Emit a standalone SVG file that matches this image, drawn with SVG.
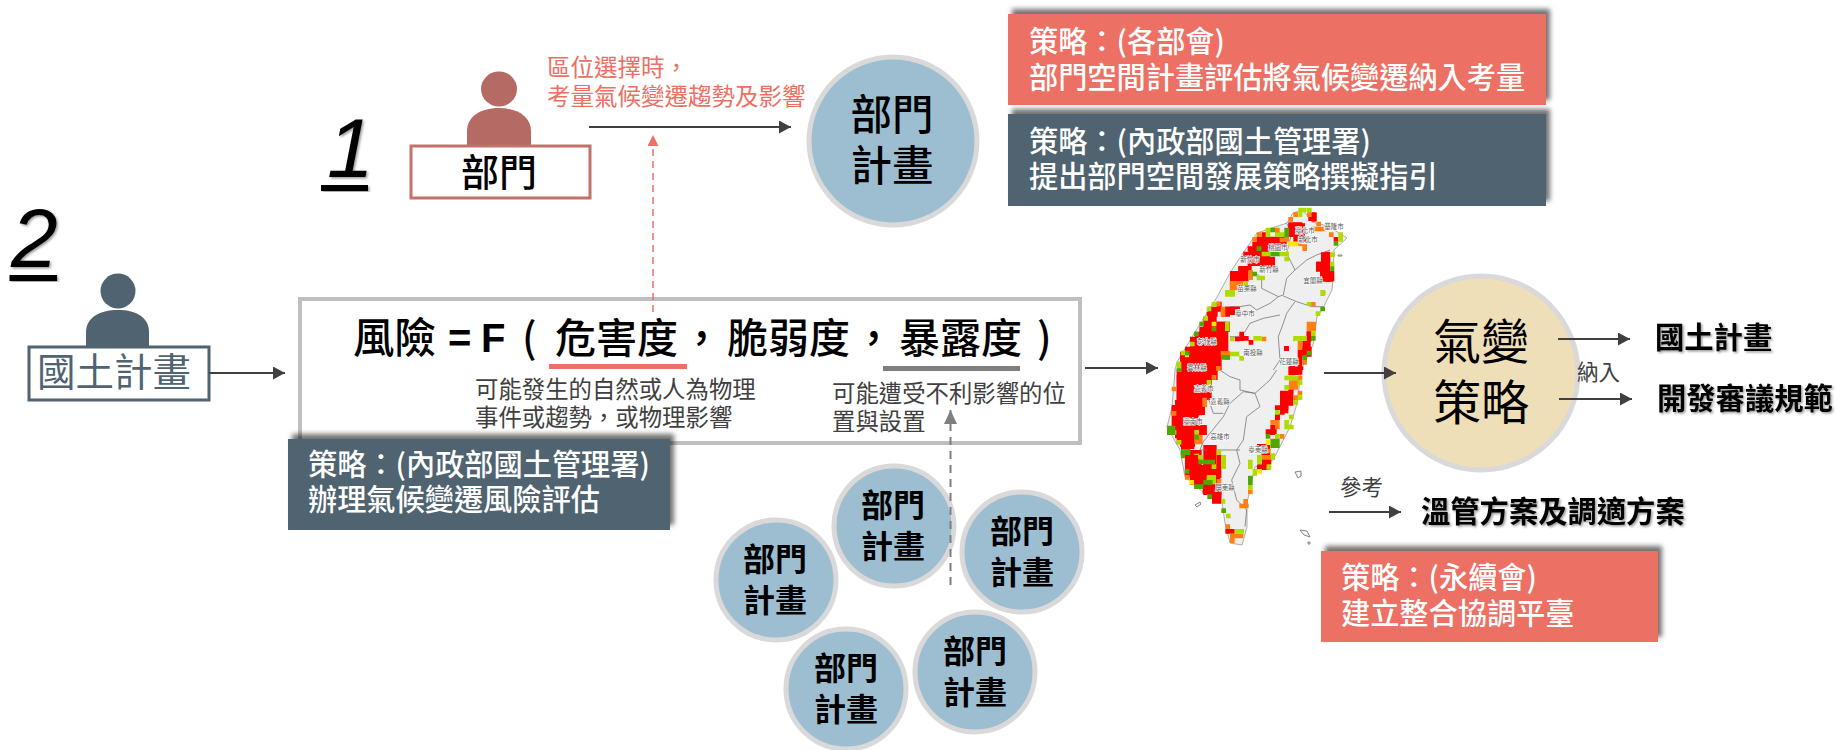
<svg xmlns="http://www.w3.org/2000/svg" width="1839" height="750" viewBox="0 0 1839 750">
<style>
text{font-family:"Noto Sans CJK TC","Noto Sans CJK JP","Liberation Sans",sans-serif;fill:#000}
.m{text-anchor:middle}
.w{fill:#fff;font-size:29.2px;font-weight:500}
.b{font-size:32px;font-weight:700;text-anchor:middle}
.f{font-size:41px;font-weight:500}
.s{font-size:23.4px;fill:#404040}
.r{font-size:23.5px;fill:#ec7063}
.o{font-size:29.3px;font-weight:700;filter:url(#ts)}
.c{font-size:21.5px;fill:#404040}
.l{font-size:6.500px;fill:#555;text-anchor:middle;paint-order:stroke;stroke:#fff;stroke-width:1.2px}
.n{font-family:"Liberation Sans",sans-serif;font-style:italic;font-size:84px;filter:url(#ts)}
.bub{fill:#9dbdd0;stroke:#d9d9d9;stroke-width:5}
.line{stroke:#404040;stroke-width:2;fill:none;marker-end:url(#a)}
.R{fill:#f00}.O{fill:#ff7f10}.L{fill:#aedc00}.G{fill:#4fa800}.Y{fill:#ffe600}
.bd{fill:none;stroke:#777;stroke-width:2.4}
</style>
<defs>
<filter id="bs" x="-10%" y="-25%" width="120%" height="150%"><feDropShadow dx="4" dy="-5" stdDeviation="2.5" flood-color="#000" flood-opacity=".55"/></filter>
<filter id="ts" x="-10%" y="-10%" width="125%" height="125%"><feDropShadow dx="1.5" dy="1.5" stdDeviation="1" flood-color="#000" flood-opacity=".4"/></filter>
<marker id="a" markerUnits="userSpaceOnUse" markerWidth="14" markerHeight="14" refX="12" refY="6.5" orient="auto"><path d="M0 0L12 6.5L0 13z" fill="#404040"/></marker>
<marker id="ar" markerUnits="userSpaceOnUse" markerWidth="14" markerHeight="14" refX="11" refY="5.5" orient="auto"><path d="M0 0L11 5.5L0 11z" fill="#ec7063"/></marker>
<marker id="ag" markerUnits="userSpaceOnUse" markerWidth="16" markerHeight="16" refX="14" refY="6.5" orient="auto"><path d="M0 0L14 6.5L0 13z" fill="#7f7f7f"/></marker>
</defs>
<rect width="1839" height="750" fill="#fff"/>

<g id="map">
<path d="M1303 210L1312 222L1328 226L1347 238L1334 250L1333 280L1332 290L1322 310L1317 317L1313 345L1303 366L1300 377L1298 400L1290 427L1273 460L1255 467L1247 503L1247 527L1242 545L1230 543L1225 523L1222 502L1203 492L1185 477L1180 450L1167 427L1172 407L1175 370L1177 362L1195 332L1217 297L1230 273L1243 253L1257 233L1287 223L1293 213z" fill="#efefef" stroke="#999" stroke-width=".8"/>
<path d="M1295 472l6-1l0 5l-3 2zM1300 530l7 1l3 6l-6-2zM1195 505l5-3l1 2l-4 3zM1338 255h4v1h-4zM1308 542h2v2h-2z" fill="#f4f4f4" stroke="#888" stroke-width="1"/>
<g transform="translate(1140,190) scale(.3333)">
<path class="R" d="M445 100h50v40h-50zM505 68h25v25h-25zM350 140h90v30h-90zM325 170h60v30h-60zM310 185h80v15h-80zM360 200h45v30h-45zM270 245h55v30h-55zM295 230h30v15h-30zM230 335h15v30h-15zM255 350h45v15h-45zM200 365h30v30h-30zM245 365h25v15h-25zM190 395h80v30h-80zM165 425h100v30h-100zM150 455h115v30h-115zM120 485h125v55h-125zM528 215h40v30h-40zM555 185h15v60h-15zM540 245h40v30h-40zM500 425h14v30h-14zM475 470h40v30h-40zM445 530h45v10h-45zM432 468h14v14h-14z"/>
<path class="bd" d="M440 190L465 240L440 265L430 315L415 320L365 295L365 265L350 250M465 240L500 210L530 195L570 180M430 318L470 335L515 350L550 350M415 320L390 340L350 360L330 345L300 350L270 350M465 335L440 370L430 400L415 440L420 510L400 540M420 375L370 385L330 400L315 425L295 440L270 440M440 100L455 130L440 190"/>
</g>
<g transform="translate(1140,370) scale(.3333)">
<path class="R" d="M110 0h105v90h-105zM95 105h100v30h-100zM105 90h85v15h-85zM105 135h70v70h-70zM175 165h25v30h-25zM120 200h45v30h-45zM190 225h40v60h-40zM135 240h50v80h-50zM185 285h55v35h-55zM150 320h90v25h-90zM190 345h55v30h-55zM230 370h14v30h-14zM420 65h25v65h-25zM445 48h15v25h-15zM445 0h30v15h-30zM405 130h15v20h-15zM380 180h30v15h-30zM395 165h15v15h-15zM360 285h30v15h-30zM365 225h25v50h-25z"/>
<path class="bd" d="M410 0L390 30L345 70L360 110L320 140L310 210L290 240L300 280L275 330L290 390L320 420L315 470M345 70L310 65L270 100L250 140L190 215L180 240L240 240L270 240L300 240M205 85L220 130L250 130M115 50L160 40L205 50M115 90L160 75L190 70M240 0L270 20L300 30L300 60L345 70"/>
</g>
<g transform="translate(1225,205) scale(.3333)">
<path class="R" d="M260 22h14v28h-14zM190 52h42v43h-42zM205 95h40v15h-40zM150 82h14v14h-14zM110 82h14v14h-14zM95 96h55v28h-55zM82 110h14v14h-14zM95 124h40v30h-40zM68 124h28v14h-28zM68 155h40v28h-40zM40 183h40v15h-40zM15 198h55v30h-55zM288 142h28v55h-28zM274 170h14v28h-14zM302 155h14v75h-14zM316 198h12v30h-12zM326 96h14v14h-14z"/>
<path class="O" d="M205 22h14v14h-14zM190 36h14v14h-14zM246 22h14v14h-14zM274 50h14v14h-14zM218 95h14v28h-14zM232 118h14v20h-14zM262 65h40v14h-40zM312 82h14v14h-14zM150 68h14v14h-14zM95 82h14v14h-14zM82 96h14v14h-14zM164 98h14v14h-14zM178 96h14v14h-14zM70 195h14v30h-14zM14 228h40v14h-40zM14 242h30v14h-30z"/>
<path class="L" d="M220 8h25v14h-25zM220 22h12v14h-12zM246 8h14v14h-14zM302 52h14v10h-14zM340 82h14v28h-14zM122 68h14v28h-14zM150 82h28v14h-28zM110 140h25v14h-25zM164 140h28v14h-28zM178 155h14v14h-14zM55 228h14v30h-14zM95 212h25v14h-25zM316 170h12v14h-12zM316 142h14v14h-14zM288 256h14v14h-14z"/>
<path class="G" d="M136 68h14v14h-14zM178 68h14v28h-14zM95 124h14v14h-14zM136 140h28v14h-28zM82 200h14v14h-14zM316 184h12v14h-12zM326 110h14v12h-14z"/>
<path class="Y" d="M190 110h30v14h-30z"/>
</g>
<g transform="translate(1170,290) scale(.3333)">
<path class="R" d="M115 50h28v30h-28zM100 80h30v30h-30zM140 95h28v50h-28zM88 110h52v30h-52zM60 140h100v30h-100zM45 170h110v28h-110zM33 198h110v72h-110zM165 50h40v25h-40zM208 125h14v28h-14zM222 138h14v14h-14zM195 140h14v14h-14zM236 150h14v14h-14zM343 168h14v14h-14zM358 228h17v28h-17z"/>
<path class="O" d="M152 50h14v30h-14zM138 35h14v14h-14zM275 140h14v14h-14zM138 228h14v14h-14zM152 183h28v14h-28zM165 195h14v14h-14z"/>
<path class="L" d="M165 0h30v20h-30zM195 62h14v14h-14zM165 95h14v28h-14zM250 138h25v14h-25zM180 185h28v14h-28zM208 198h14v14h-14zM125 36h14v14h-14zM110 50h14v14h-14zM100 78h14v14h-14zM60 155h14v14h-14zM20 215h14v30h-14zM32 182h14v14h-14zM180 140h14v14h-14zM370 140h5v14h-5z"/>
<path class="G" d="M155 195h25v14h-25zM125 110h14v14h-14zM72 125h14v14h-14zM45 182h14v14h-14zM88 95h14v14h-14zM20 235h14v10h-14z"/>
<path class="Y" d="M125 95h14v14h-14zM45 196h12v6h-12z"/>
</g>
<g transform="translate(1255,290) scale(.3333)">
<path class="R" d="M155 124h14v28h-14zM142 152h25v30h-25zM128 180h14v50h-14zM102 230h40v24h-40zM102 288h14v14h-14zM75 302h40v45h-40zM60 346h40v14h-40zM75 360h14v14h-14zM60 374h14v14h-14zM46 404h14v28h-14zM32 418h14v14h-14zM6 462h30v14h-30zM20 476h26v50h-26zM6 525h28v15h-28zM88 168h14v14h-14z"/>
<path class="O" d="M155 95h28v28h-28zM128 152h14v28h-14zM142 210h14v14h-14zM102 271h28v28h-28zM128 257h14v14h-14zM115 316h14v14h-14zM128 302h14v14h-14zM60 390h14v14h-14zM46 390h14v14h-14zM60 404h14v14h-14zM74 432h14v14h-14zM168 36h14v12h-14zM34 476h12v14h-12z"/>
<path class="L" d="M196 0h14v18h-14zM155 36h14v12h-14zM182 64h14v14h-14zM168 124h14v14h-14zM115 138h40v14h-40zM88 257h42v14h-42zM128 271h14v14h-14zM88 285h14v14h-14zM128 316h14v14h-14zM115 330h14v14h-14zM60 360h14v14h-14zM102 374h14v14h-14zM88 390h14v28h-14zM102 404h14v14h-14zM60 432h14v14h-14zM46 490h14v20h-14zM6 495h14v28h-14zM34 525h14v14h-14z"/>
<path class="G" d="M196 50h14v14h-14zM168 138h14v14h-14zM155 182h14v14h-14zM142 196h14v14h-14zM32 432h14v14h-14zM46 446h28v28h-28z"/>
<path class="Y" d="M32 450h14v14h-14z"/>
</g>
<g transform="translate(1165,375) scale(.3333)">
<path class="R" d="M35 0h105v35h-105zM35 35h90v35h-90zM35 68h75v28h-75zM20 96h90v25h-90zM20 120h80v60h-80zM100 152h25v28h-25zM35 180h55v28h-55zM48 208h40v14h-40zM125 210h28v40h-28z"/>
<path class="O" d="M140 0h14v14h-14zM20 35h14v14h-14zM112 68h14v28h-14zM20 108h14v14h-14zM88 180h25v28h-25z"/>
<path class="L" d="M125 15h14v20h-14zM20 165h14v14h-14zM88 165h14v14h-14zM35 195h14v14h-14zM88 236h14v14h-14zM155 225h14v40h-14z"/>
<path class="G" d="M6 152h25v28h-25zM88 180h14v14h-14zM48 222h28v28h-28z"/>
</g>
<g transform="translate(1180,455) scale(.3333)">
<path class="R" d="M15 0h40v60h-40zM70 28h40v14h-40zM110 0h14v70h-14zM45 60h45v28h-45zM68 90h55v28h-55zM96 118h28v28h-28zM136 222h28v14h-28zM232 28h28v14h-28zM246 14h28v14h-28z"/>
<path class="O" d="M15 60h14v14h-14zM110 72h14v14h-14zM204 104h14v14h-14zM178 146h28v14h-28zM190 132h14v14h-14zM136 208h14v14h-14zM150 236h40v14h-40zM150 250h14v14h-14zM246 0h28v14h-28z"/>
<path class="L" d="M55 0h14v14h-14zM95 28h14v14h-14zM124 0h14v42h-14zM80 60h28v28h-28zM124 132h12v14h-12zM138 176h14v14h-14zM164 222h28v14h-28zM204 14h14v28h-14zM218 42h14v20h-14zM204 90h14v14h-14zM232 0h14v28h-14zM260 28h14v14h-14zM274 0h10v14h-10z"/>
<path class="G" d="M55 14h50v14h-50zM14 42h14v14h-14zM70 75h28v14h-28zM42 88h28v14h-28zM82 118h14v14h-14zM124 160h14v14h-14zM204 62h14v28h-14z"/>
<path class="Y" d="M28 75h14v14h-14zM232 42h14v14h-14z"/>
</g>
<g id="map-labels">
<text class="l" x="1334" y="229">基隆市</text><text class="l" x="1305" y="233">臺北市</text><text class="l" x="1308" y="242">新北市</text><text class="l" x="1278" y="250">桃園市</text><text class="l" x="1250" y="262">新竹市</text><text class="l" x="1269" y="272">新竹縣</text><text class="l" x="1313" y="283">宜蘭縣</text><text class="l" x="1247" y="291">苗栗縣</text><text class="l" x="1245" y="316">臺中市</text><text class="l" x="1207" y="344">彰化縣</text><text class="l" x="1253" y="355">南投縣</text><text class="l" x="1289" y="364">花蓮縣</text><text class="l" x="1197" y="370">雲林縣</text><text class="l" x="1204" y="391">嘉義市</text><text class="l" x="1220" y="404">嘉義縣</text><text class="l" x="1193" y="424">臺南市</text><text class="l" x="1220" y="439">高雄市</text><text class="l" x="1258" y="452">臺東縣</text><text class="l" x="1225" y="490">屏東縣</text>
</g>
</g>

<g id="formula-box">
<rect x="300" y="299" width="780" height="144" fill="#fff" stroke="#bfbfbf" stroke-width="4"/>
<text x="353" y="353" style="font-size:41.5px;font-weight:500">風險</text>
<text x="448" y="352" style="font-family:'Liberation Sans',sans-serif;font-size:40px;font-weight:700">=</text>
<text x="481" y="352" style="font-family:'Liberation Sans',sans-serif;font-size:40px;font-weight:700">F</text>
<text class="f" x="522" y="353">(</text>
<text class="f" x="555" y="353">危害度</text>
<text class="f" x="681" y="353">，</text>
<text class="f" x="727" y="353">脆弱度</text>
<text class="f" x="853" y="353">，</text>
<text class="f" x="899" y="353">暴露度</text>
<text class="f" x="1037" y="353">)</text>
<rect x="549" y="364" width="138" height="5" fill="#ec7063"/>
<rect x="883" y="366" width="137" height="5" fill="#7f7f7f"/>
<text class="s" x="475" y="398">可能發生的自然或人為物理</text>
<text class="s" x="475" y="426">事件或趨勢，或物理影響</text>
<text class="s" x="832" y="402">可能遭受不利影響的位</text>
<text class="s" x="832" y="430">置與設置</text>
</g>

<g id="num-1"><text class="n" x="327" y="177">1</text><rect x="321" y="185" width="47" height="6" filter="url(#ts)"/></g>
<g id="num-2"><text class="n" x="11" y="267">2</text><rect x="9.500" y="275" width="47.500" height="6" filter="url(#ts)"/></g>

<g id="person-dept">
<ellipse cx="499" cy="89" rx="18" ry="17.500" fill="#b56a63"/>
<path d="M467 146V131C467 117 480 108 499 108S531 117 531 131V146z" fill="#b56a63"/>
<rect x="411" y="146" width="179" height="52" fill="#fff" stroke="#c0726b" stroke-width="3"/>
<text class="m" x="499" y="186" style="font-size:38px;font-weight:500">部門</text>
</g>
<g id="person-national">
<ellipse cx="118" cy="291" rx="17.500" ry="17.500" fill="#4f6470"/>
<path d="M86 347V332C86 318 99 310 118 310S149 318 149 332V347z" fill="#4f6470"/>
<rect x="29" y="347" width="180" height="53" fill="#fff" stroke="#4f6470" stroke-width="3"/>
<text class="m" x="114" y="386" style="font-size:38.5px;fill:#4f6470">國土計畫</text>
</g>
<g id="note-site"><text class="r" x="547" y="76">區位選擇時，</text><text class="r" x="547" y="105">考量氣候變遷趨勢及影響</text></g>

<g id="plan-main"><circle cx="893" cy="141" r="84" fill="#9dbdd0" stroke="#d9d9d9" stroke-width="5"/>
<text class="m" x="892" y="130" style="font-size:41.5px;font-weight:500">部門</text><text class="m" x="892" y="181" style="font-size:41.5px;font-weight:500">計畫</text></g>

<g id="plan-a"><circle class="bub" cx="776" cy="580" r="60"/><text class="b" x="775" y="571">部門</text><text class="b" x="775" y="612">計畫</text></g>
<g id="plan-b"><circle class="bub" cx="894" cy="526" r="60"/><text class="b" x="893" y="517">部門</text><text class="b" x="893" y="558">計畫</text></g>
<g id="plan-c"><circle class="bub" cx="1022" cy="552" r="60"/><text class="b" x="1022" y="543">部門</text><text class="b" x="1022" y="584">計畫</text></g>
<g id="plan-d"><circle class="bub" cx="846" cy="689" r="60"/><text class="b" x="846" y="680">部門</text><text class="b" x="846" y="721">計畫</text></g>
<g id="plan-e"><circle class="bub" cx="975" cy="672" r="60"/><text class="b" x="975" y="663">部門</text><text class="b" x="975" y="704">計畫</text></g>

<g id="strategy-ministries"><rect x="1008" y="14" width="538" height="91" fill="#ec7063" filter="url(#bs)"/><text class="w" x="1029" y="52">策略：(各部會)</text><text class="w" x="1029" y="88">部門空間計畫評估將氣候變遷納入考量</text></g>
<g id="strategy-moi-guide"><rect x="1008" y="114" width="538" height="92" fill="#4f6470" filter="url(#bs)"/><text class="w" x="1029" y="152">策略：(內政部國土管理署)</text><text class="w" x="1029" y="187">提出部門空間發展策略撰擬指引</text></g>
<g id="strategy-moi-risk"><rect x="288" y="439" width="382" height="91" fill="#4f6470" filter="url(#bs)"/><text class="w" x="308" y="475">策略：(內政部國土管理署)</text><text class="w" x="308" y="510">辦理氣候變遷風險評估</text></g>
<g id="strategy-ncsd"><rect x="1321" y="551" width="337" height="91" fill="#ec7063" filter="url(#bs)"/><text class="w" x="1341" y="588">策略：(永續會)</text><text class="w" x="1341" y="624">建立整合協調平臺</text></g>

<g id="climate-strategy"><circle cx="1481" cy="373" r="97" fill="#efdfb8" stroke="#d9d9d9" stroke-width="5"/>
<text class="m" x="1481" y="359" style="font-size:48px">氣變</text><text class="m" x="1481" y="420" style="font-size:48px">策略</text></g>
<g id="label-include"><text class="c" x="1577" y="380">納入</text></g>
<g id="label-refer"><text class="c" x="1340" y="495">參考</text></g>
<g id="out-national"><text class="o" x="1655" y="348">國土計畫</text></g>
<g id="out-review"><text class="o" x="1657" y="409">開發審議規範</text></g>
<g id="out-plans"><text class="o" x="1421" y="522">溫管方案及調適方案</text></g>

<g id="connectors">
<path class="line" d="M209 373H285"/>
<path class="line" d="M589 127H791"/>
<path class="line" d="M1085 368H1158"/>
<path class="line" d="M1324 373H1396"/>
<path class="line" d="M1558 339H1630"/>
<path class="line" d="M1559 399H1632"/>
<path class="line" d="M1329 512H1401"/>
<path d="M653 312V135" fill="none" stroke="#ec7063" stroke-width="1.5" stroke-dasharray="7 5" marker-end="url(#ar)"/>
<path d="M950.5 585V410" fill="none" stroke="#7f7f7f" stroke-width="2" stroke-dasharray="8 6" marker-end="url(#ag)"/>
</g>
</svg>
